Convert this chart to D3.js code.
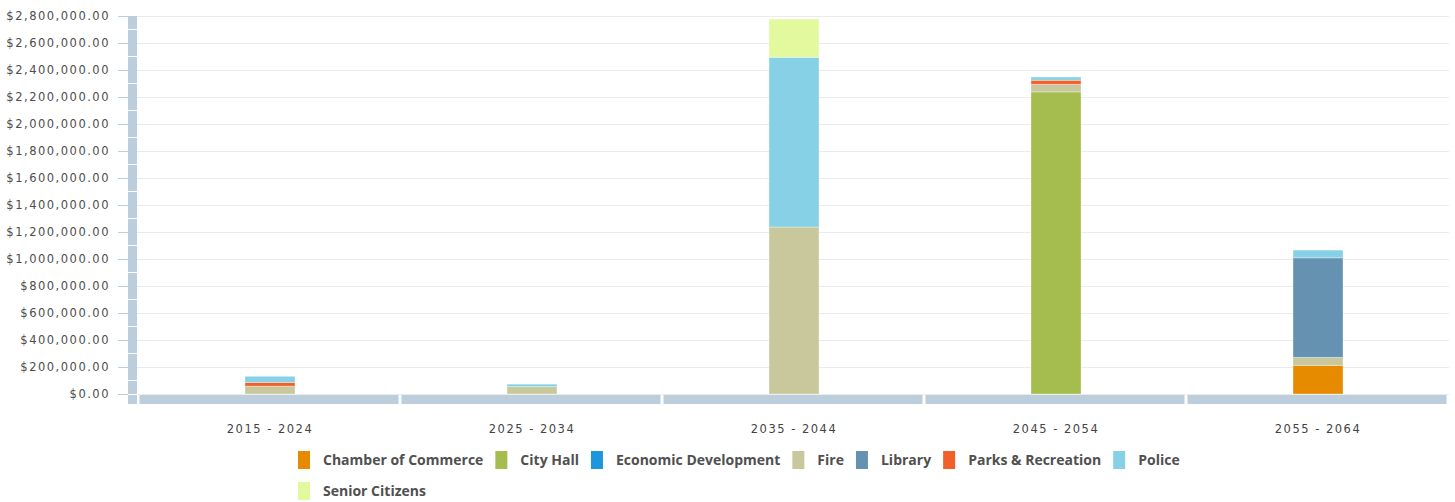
<!DOCTYPE html>
<html>
<head>
<meta charset="utf-8">
<script src="https://cdn.jsdelivr.net/npm/d3@7"></script>
<style>
    body { margin: 0; background: #fff; }
    svg { display: block; }
    .tick-label { font-family: 'DejaVu Sans', Verdana, sans-serif; font-size: 11.5px; letter-spacing: 1.5px; fill: #4d4d4d; }
    .legend-label { font-family: 'Open Sans', sans-serif; font-weight: 700; font-size: 14px; fill: #505050; }
</style>
</head>
<body>
<svg id="chart" width="1455" height="502"></svg>
<script>
const categories = ['2015 - 2024', '2025 - 2034', '2035 - 2044', '2045 - 2054', '2055 - 2064'];
const seriesNames = ['Chamber of Commerce', 'City Hall', 'Economic Development', 'Fire', 'Library', 'Parks & Recreation', 'Police', 'Senior Citizens'];
const seriesColors = ['#e68a00', '#a4bd4e', '#1e96dc', '#c9c89c', '#6692b2', '#f2602a', '#86d1e6', '#e3f99e'];

// one value per category, same order as categories
const chamber = [0, 0, 0, 0, 212000];
const cityHall = [0, 0, 0, 2238000, 0];
const economicDev = [0, 0, 0, 0, 0];
const fire = [58000, 55000, 1237000, 56000, 59000];
const library = [0, 0, 0, 0, 738000];
const parks = [28000, 0, 0, 30000, 0];
const police = [45000, 18000, 1257000, 24000, 57000];
const seniors = [0, 0, 283000, 0, 0];

const yTicks = d3.range(0, 2800001, 200000);

const seriesValues = [chamber, cityHall, economicDev, fire, library, parks, police, seniors];

const svg = d3.select('#chart');
const margin = {top: 16, left: 139, right: 6, bottom: 108};
const width = 1455 - margin.left - margin.right;
const plotBottom = 502 - margin.bottom;

const x = d3.scaleBand()
    .domain(categories)
    .range([margin.left, margin.left + width]);

const y = d3.scaleLinear()
    .domain([0, 2800000])
    .range([plotBottom, margin.top]);

const table = categories.map((c, i) => {
    const row = { category: c };
    seriesNames.forEach((s, j) => { row[s] = seriesValues[j][i]; });
    return row;
});

const stacked = d3.stack().keys(seriesNames)(table);
const color = d3.scaleOrdinal().domain(seriesNames).range(seriesColors);

const axisColor = '#bccddc';
const fmt = d3.format(',.2f');

// gridlines
svg.append('g')
    .selectAll('line')
    .data(yTicks)
    .enter()
        .append('line')
            .attr('x1', margin.left - 2)
            .attr('x2', margin.left + width)
            .attr('y1', (d) => Math.round(y(d)) + 0.5)
            .attr('y2', (d) => Math.round(y(d)) + 0.5)
            .attr('stroke', '#ebebeb');

// y axis: ticks, labels and the segmented bar
const yAxis = svg.append('g');
const step = y(0) - y(200000);

yAxis.selectAll('.tick-mark')
    .data(yTicks)
    .enter()
        .append('line')
            .attr('class', 'tick-mark')
            .attr('x1', 118)
            .attr('x2', 128)
            .attr('y1', (d) => Math.round(y(d)) + 0.5)
            .attr('y2', (d) => Math.round(y(d)) + 0.5)
            .attr('stroke', axisColor);

yAxis.selectAll('.tick-label')
    .data(yTicks)
    .enter()
        .append('text')
            .attr('class', 'tick-label')
            .attr('x', 110)
            .attr('y', (d) => y(d))
            .attr('dy', '0.35em')
            .attr('text-anchor', 'end')
            .text((d) => `$${fmt(d)}`);

yAxis.selectAll('.axis-seg')
    .data(yTicks)
    .enter()
        .append('rect')
            .attr('class', 'axis-seg')
            .attr('x', 128)
            .attr('width', 9)
            .attr('y', (d) => Math.max(y(d) - step / 2 + 0.5, margin.top))
            .attr('height', (d) => Math.min(y(d) + step / 2 - 0.5, plotBottom) - Math.max(y(d) - step / 2 + 0.5, margin.top))
            .attr('fill', axisColor);

// corner square
svg.append('rect')
    .attr('x', 128)
    .attr('y', plotBottom + 1)
    .attr('width', 9)
    .attr('height', 9)
    .attr('fill', axisColor);

// x axis: segmented bar and labels
const xAxis = svg.append('g');

xAxis.selectAll('rect')
    .data(categories)
    .enter()
        .append('rect')
            .attr('x', (d) => x(d) + 0.5)
            .attr('width', x.bandwidth() - 3)
            .attr('y', plotBottom + 1)
            .attr('height', 9)
            .attr('fill', axisColor);

xAxis.selectAll('text')
    .data(categories)
    .enter()
        .append('text')
            .attr('class', 'tick-label')
            .attr('x', (d) => x(d) + x.bandwidth() / 2)
            .attr('y', 429)
            .attr('dy', '0.35em')
            .attr('text-anchor', 'middle')
            .style('fill', '#444')
            .text((d) => d);

// stacked bars
const barWidth = 50;

svg.append('g')
    .selectAll('g')
    .data(stacked)
    .enter()
        .append('g')
            .attr('fill', (d) => color(d.key))
        .selectAll('rect')
        .data((d) => d.filter((p) => p[1] - p[0] > 0))
        .enter()
            .append('rect')
                .attr('x', (d) => x(d.data.category) + x.bandwidth() / 2 - barWidth / 2)
                .attr('width', barWidth)
                .attr('y', (d) => y(d[1]))
                .attr('height', (d) => y(d[0]) - y(d[1]))
                .attr('stroke', 'rgba(255,255,255,0.35)')
                .attr('stroke-width', 1);

// legend, laid out in a row that wraps after Police
const legend = svg.append('g');
const perRow = 7;
let cursor = 298;

seriesNames.forEach((name, i) => {
    if (i === perRow) cursor = 298;
    const rowY = i < perRow ? 460 : 491;
    const item = legend.append('g');
    item.append('rect')
        .attr('x', cursor)
        .attr('y', rowY - 9)
        .attr('width', 12)
        .attr('height', 18)
        .attr('fill', color(name));
    const label = item.append('text')
        .attr('class', 'legend-label')
        .attr('x', cursor + 25)
        .attr('y', rowY)
        .attr('dy', '0.35em')
        .text(name);
    cursor += 25 + label.node().getComputedTextLength() + 12;
});
</script>
</body>
</html>
